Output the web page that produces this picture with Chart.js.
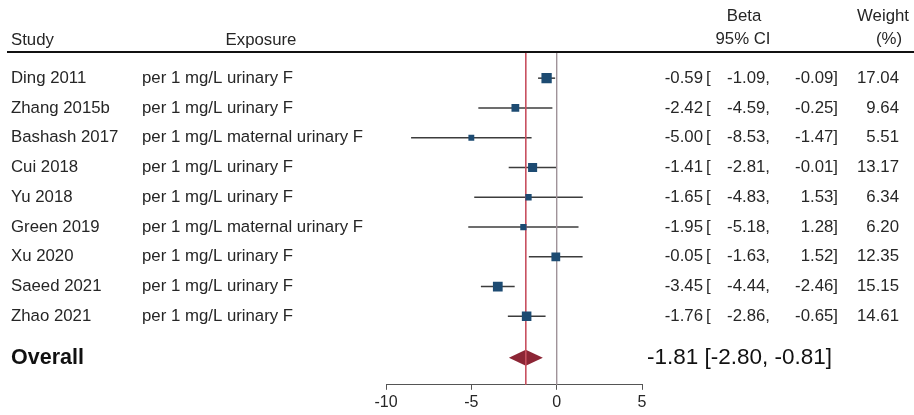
<!DOCTYPE html>
<html>
<head>
<meta charset="utf-8">
<script src="https://cdn.jsdelivr.net/npm/chart.js@4"></script>
<style>
  html, body { margin: 0; padding: 0; background: #fff; }
</style>
</head>
<body>
<canvas id="forest" width="914" height="415"></canvas>
<script>
// studies in the meta-analysis
const studies = ["Ding 2011", "Zhang 2015b", "Bashash 2017", "Cui 2018", "Yu 2018", "Green 2019", "Xu 2020", "Saeed 2021", "Zhao 2021"];
const exposure = ["per 1 mg/L urinary F", "per 1 mg/L urinary F", "per 1 mg/L maternal urinary F", "per 1 mg/L urinary F", "per 1 mg/L urinary F", "per 1 mg/L maternal urinary F", "per 1 mg/L urinary F", "per 1 mg/L urinary F", "per 1 mg/L urinary F"];
const beta = [-0.59, -2.42, -5.00, -1.41, -1.65, -1.95, -0.05, -3.45, -1.76];
const lower = [-1.09, -4.59, -8.53, -2.81, -4.83, -5.18, -1.63, -4.44, -2.86];
const upper = [-0.09, -0.25, -1.47, -0.01, 1.53, 1.28, 1.52, -2.46, -0.65];
const weight = [17.04, 9.64, 5.51, 13.17, 6.34, 6.20, 12.35, 15.15, 14.61];

// pooled estimate
const overall = { beta: -1.81, lower: -2.80, upper: -0.81 };

const xTicks = [-10, -5, 0, 5];

const OVERALL_ROW = 9.39;
const Y_MIN = -0.845, Y_MAX = 10.3;
const txt = "#262626";
const font = "Liberation Sans, Arial, sans-serif";

Chart.defaults.font.family = font;

const fmt = v => v.toFixed(2);

// whiskers, diamond and the text columns
const forestPlugin = {
  id: "forest",
  beforeDatasetsDraw(chart) {
    const { ctx, scales: { x, y } } = chart;
    ctx.save();
    ctx.strokeStyle = "#3c3c3c";
    ctx.lineWidth = 1.5;
    for (let i = 0; i < beta.length; i++) {
      const py = y.getPixelForValue(i);
      ctx.beginPath();
      ctx.moveTo(x.getPixelForValue(lower[i]), py);
      ctx.lineTo(x.getPixelForValue(upper[i]), py);
      ctx.stroke();
    }
    // pooled diamond
    const oy = y.getPixelForValue(OVERALL_ROW);
    ctx.fillStyle = "#8c2535";
    ctx.beginPath();
    ctx.moveTo(x.getPixelForValue(overall.lower), oy);
    ctx.lineTo(x.getPixelForValue(overall.beta), oy - 8);
    ctx.lineTo(x.getPixelForValue(overall.upper), oy);
    ctx.lineTo(x.getPixelForValue(overall.beta), oy + 8);
    ctx.closePath();
    ctx.fill();
    ctx.restore();
  },
  afterDraw(chart) {
    const { ctx, scales: { y } } = chart;
    ctx.save();
    ctx.fillStyle = txt;
    ctx.textBaseline = "middle";
    ctx.font = "16.8px " + font;

    // header
    ctx.textAlign = "left";
    ctx.fillText("Study", 11, 40);
    ctx.textAlign = "center";
    ctx.fillText("Exposure", 261, 40);
    ctx.fillText("Beta", 744, 16);
    ctx.fillText("95% CI", 743, 39);
    ctx.fillText("Weight", 883, 16);
    ctx.fillText("(%)", 889, 39);

    ctx.strokeStyle = "#111";
    ctx.lineWidth = 2;
    ctx.beginPath();
    ctx.moveTo(7, 52);
    ctx.lineTo(914, 52);
    ctx.stroke();

    for (let i = 0; i < studies.length; i++) {
      const py = y.getPixelForValue(i);
      ctx.textAlign = "left";
      ctx.fillText(studies[i], 11, py);
      ctx.fillText(exposure[i], 142, py);
      ctx.fillText("[", 706, py);
      ctx.textAlign = "right";
      ctx.fillText(fmt(beta[i]), 703, py);
      ctx.fillText(fmt(lower[i]) + ",", 770, py);
      ctx.fillText(fmt(upper[i]) + "]", 838, py);
      ctx.fillText(fmt(weight[i]), 899, py);
    }

    const oy = y.getPixelForValue(OVERALL_ROW);
    ctx.fillStyle = "#111";
    ctx.textAlign = "left";
    ctx.font = "bold 21.5px " + font;
    ctx.fillText("Overall", 11, oy);
    ctx.font = "22.5px " + font;
    ctx.fillText(fmt(overall.beta) + " [" + fmt(overall.lower) + ", " + fmt(overall.upper) + "]", 647, oy);
    ctx.restore();
  }
};

const ctx = document.getElementById("forest");

new Chart(ctx, {
  type: "scatter",
  data: {
    datasets: [
      {
        // pooled estimate reference line
        type: "line",
        data: [{ x: overall.beta, y: Y_MIN }, { x: overall.beta, y: Y_MAX }],
        borderColor: "#c8505e",
        borderWidth: 1,
        pointRadius: 0,
        order: 3
      },
      {
        // line of no effect
        type: "line",
        data: [{ x: 0, y: Y_MIN }, { x: 0, y: Y_MAX }],
        borderColor: "#a0949a",
        borderWidth: 1,
        pointRadius: 0,
        order: 3
      },
      {
        data: beta.map((b, i) => ({ x: b, y: i })),
        pointStyle: "rect",
        pointRadius: weight.map(w => Math.sqrt(w) * 2.5 / Math.SQRT2),
        backgroundColor: "#1d4b72",
        borderColor: "#1d4b72",
        borderWidth: 0,
        order: 1
      }
    ]
  },
  options: {
    responsive: false,
    animation: false,
    events: [],
    layout: { padding: { top: 53, left: 386, right: 272, bottom: 0 } },
    plugins: { legend: { display: false }, tooltip: { enabled: false } },
    scales: {
      x: {
        type: "linear",
        min: -10,
        max: 5,
        afterBuildTicks: axis => { axis.ticks = xTicks.map(v => ({ value: v })); },
        grid: { drawOnChartArea: false, drawTicks: true, tickLength: 5, color: "#555" },
        border: { color: "#555", width: 1 },
        ticks: { color: txt, font: { size: 16 }, padding: 3, maxRotation: 0 }
      },
      y: {
        type: "linear",
        display: false,
        min: Y_MIN,
        max: Y_MAX,
        reverse: true
      }
    }
  },
  plugins: [forestPlugin]
});
</script>
</body>
</html>
